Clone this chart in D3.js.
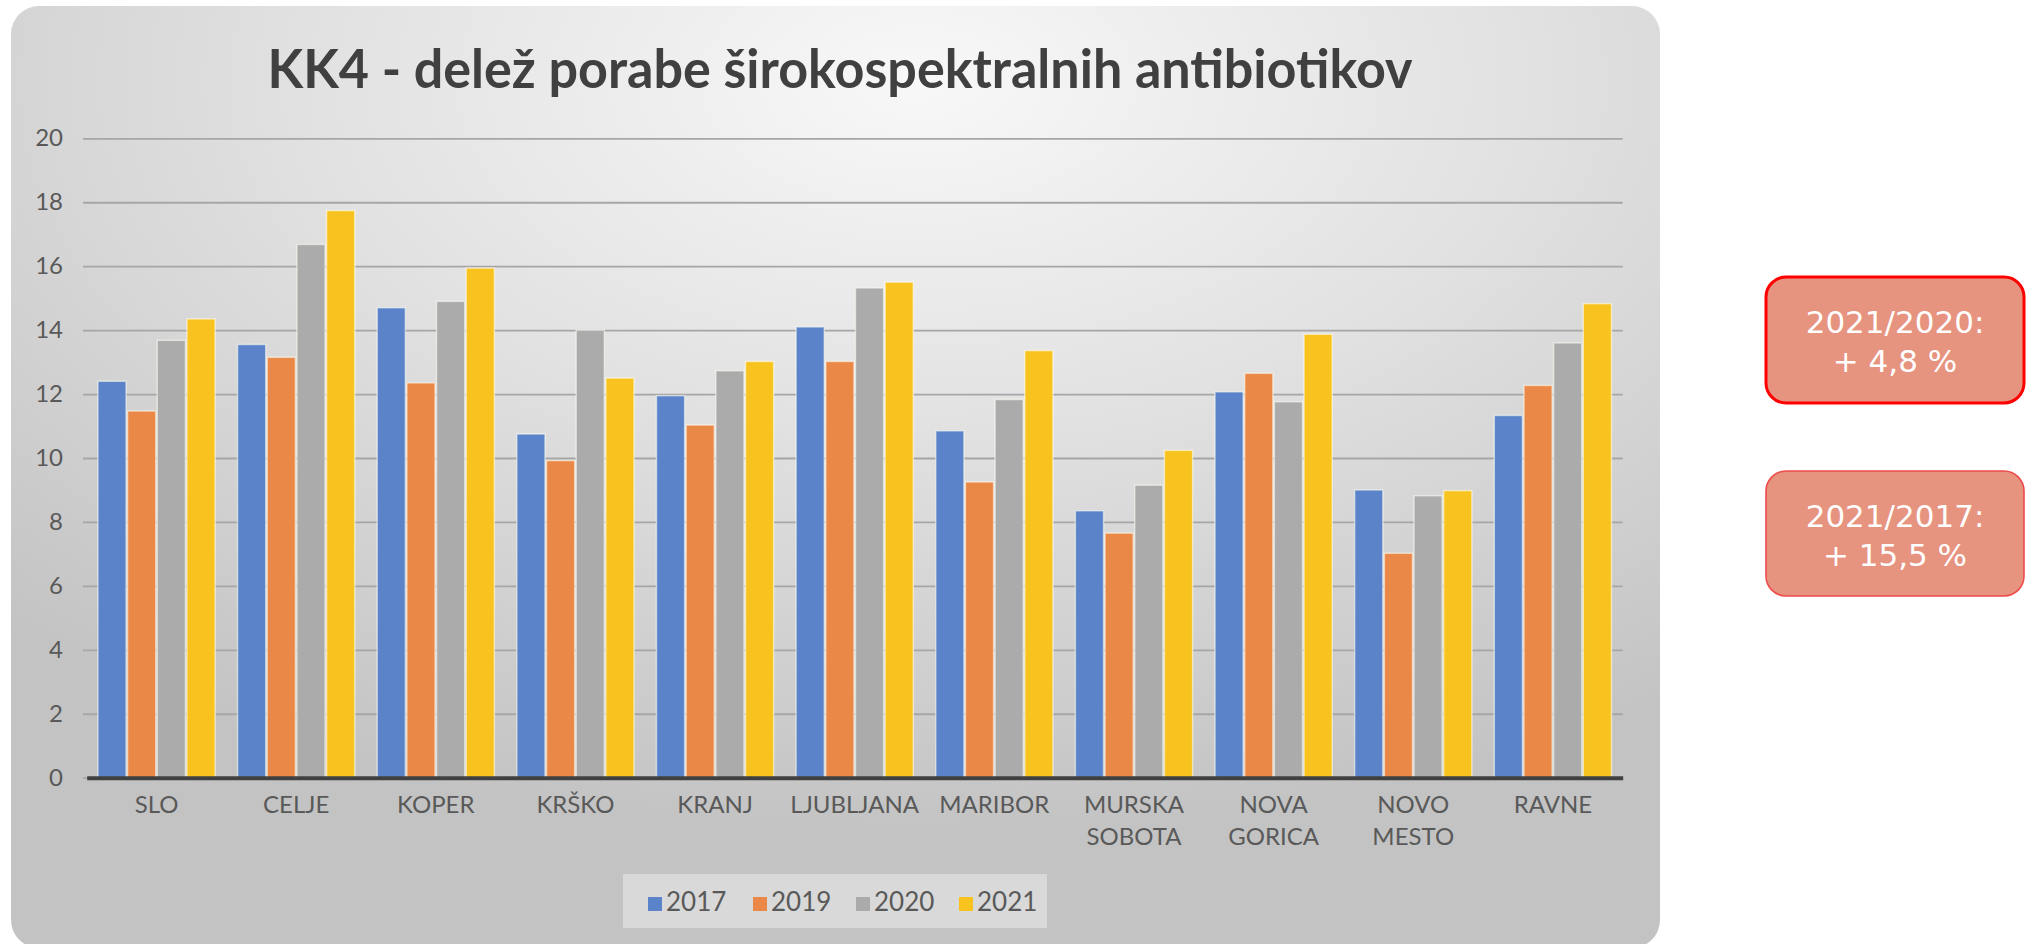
<!DOCTYPE html>
<html>
<head>
<meta charset="utf-8">
<script src="https://cdn.jsdelivr.net/npm/d3@7"></script>
<style>
  html, body { margin: 0; padding: 0; background: #ffffff; }
  svg { display: block; }
</style>
</head>
<body>
<svg id="chart" width="2032" height="944"></svg>
<script>
const categories = [["SLO"], ["CELJE"], ["KOPER"], ["KRŠKO"], ["KRANJ"], ["LJUBLJANA"], ["MARIBOR"], ["MURSKA", "SOBOTA"], ["NOVA", "GORICA"], ["NOVO", "MESTO"], ["RAVNE"]];
const seriesNames = ["2017", "2019", "2020", "2021"];
const values2017 = [12.4, 13.55, 14.7, 10.75, 11.95, 14.1, 10.85, 8.35, 12.07, 9.0, 11.33];
const values2019 = [11.47, 13.15, 12.35, 9.92, 11.03, 13.02, 9.25, 7.65, 12.65, 7.02, 12.27];
const values2020 = [13.68, 16.68, 14.9, 14.0, 12.73, 15.32, 11.83, 9.15, 11.76, 8.82, 13.6];
const values2021 = [14.35, 17.74, 15.94, 12.5, 13.02, 15.5, 13.36, 10.24, 13.87, 8.98, 14.83];
const seriesValues = [values2017, values2019, values2020, values2021];
const seriesColors = ["#5a83c9", "#ea8847", "#ababab", "#f8c31f"];
const yTicks = [0, 2, 4, 6, 8, 10, 12, 14, 16, 18, 20];
const titleText = "KK4 - delež porabe širokospektralnih antibiotikov";
const notes = [["2021/2020:", "+ 4,8 %"], ["2021/2017:", "+ 15,5 %"]];

const svg = d3.select("#chart");
const defs = svg.append("defs");
const grad = defs.append("radialGradient").attr("id", "cardGrad")
  .attr("cx", "0.55").attr("cy", "0.08").attr("r", "0.8").attr("fx", "0.55").attr("fy", "0.08");
grad.append("stop").attr("offset", "0").attr("stop-color", "#f8f8f8");
grad.append("stop").attr("offset", "0.45").attr("stop-color", "#e2e2e2");
grad.append("stop").attr("offset", "1").attr("stop-color", "#c3c3c3");

// card
svg.append("rect").attr("x", 11).attr("y", 6).attr("width", 1649).attr("height", 942)
  .attr("rx", 28).attr("ry", 28).attr("fill", "url(#cardGrad)");

// title
svg.append("text").attr("x", 840).attr("y", 88).attr("text-anchor", "middle")
  .attr("font-family", "Lato").attr("font-weight", "bold").attr("font-size", 53)
  .attr("fill", "#404040").attr("textLength", 1145).attr("lengthAdjust", "spacingAndGlyphs")
  .text(titleText);

const plotLeft = 86.7, plotRight = 1622.7, plotTop = 138.3, plotBottom = 777.7;
const x0 = d3.scaleBand().domain(categories.map(d => d.join(" "))).range([plotLeft, plotRight])
  .paddingInner(0.15).paddingOuter(0.075);
const x1 = d3.scaleBand().domain(seriesNames).range([0, x0.bandwidth()]).padding(0);
const y = d3.scaleLinear().domain([0, 20]).range([plotBottom, plotTop]);

// gridlines
const yAxis = d3.axisLeft(y).tickValues(yTicks).tickSize(-(plotRight - 83)).tickPadding(20);
const gy = svg.append("g").attr("transform", `translate(83,0)`).call(yAxis);
gy.select(".domain").remove();
gy.selectAll(".tick line").attr("stroke", "#a6a6a6").attr("stroke-width", 1.8);
gy.selectAll(".tick text").attr("font-family", "Lato").attr("font-size", 24)
  .attr("fill", "#595959").attr("x", -20);

// bars
const groups = svg.append("g").selectAll("g").data(categories).join("g")
  .attr("transform", d => `translate(${x0(d.join(" "))},0)`);
groups.selectAll("rect").data((d, i) => seriesNames.map((s, k) => ({ s, v: seriesValues[k][i], k })))
  .join("rect")
  .attr("x", d => x1(d.s) + 0.75)
  .attr("width", x1.bandwidth() - 1.5)
  .attr("y", d => y(d.v))
  .attr("height", d => y(0) - y(d.v))
  .attr("fill", d => seriesColors[d.k])
  .attr("stroke", "rgba(255,255,245,0.55)").attr("stroke-width", 1.5);

// baseline
const xAxis = d3.axisBottom(x0).tickSize(0).tickFormat("");
const gx = svg.append("g").attr("transform", `translate(0,${plotBottom})`).call(xAxis);
gx.select(".domain").attr("stroke", "#404040").attr("stroke-width", 4);

// category labels
const labels = svg.append("g");
categories.forEach(c => {
  const cx = x0(c.join(" ")) + x0.bandwidth() / 2;
  const t = labels.append("text").attr("x", cx)
    .attr("y", 813).attr("text-anchor", "middle")
    .attr("font-family", "Lato").attr("font-size", 24).attr("fill", "#595959");
  c.forEach((line, i) => t.append("tspan").attr("x", cx)
    .attr("dy", i === 0 ? 0 : 32).text(line));
});

// legend
const lg = svg.append("g");
lg.append("rect").attr("x", 623).attr("y", 874).attr("width", 424).attr("height", 54)
  .attr("fill", "rgba(235,235,235,0.55)");
const legendX = [648, 753, 856, 959];
seriesNames.forEach((s, k) => {
  lg.append("rect").attr("x", legendX[k]).attr("y", 897).attr("width", 14).attr("height", 14)
    .attr("fill", seriesColors[k]);
  lg.append("text").attr("x", legendX[k] + 18).attr("y", 911)
    .attr("font-family", "Lato").attr("font-size", 26).attr("fill", "#595959").text(s);
});

// note boxes
const boxes = [
  { y: 277, h: 126, stroke: "#ff0000", sw: 3, base: 333 },
  { y: 471, h: 125, stroke: "#ee4b4b", sw: 1.6, base: 527 }
];
boxes.forEach((b, i) => {
  svg.append("rect").attr("x", 1766).attr("y", b.y).attr("width", 258).attr("height", b.h)
    .attr("rx", 20).attr("ry", 20).attr("fill", "#e6937f")
    .attr("stroke", b.stroke).attr("stroke-width", b.sw);
  notes[i].forEach((line, j) => {
    svg.append("text").attr("x", 1895).attr("y", b.base + j * 39).attr("text-anchor", "middle")
      .attr("font-family", "DejaVu Sans").attr("font-size", 31).attr("fill", "#ffffff").text(line);
  });
});
</script>
</body>
</html>
